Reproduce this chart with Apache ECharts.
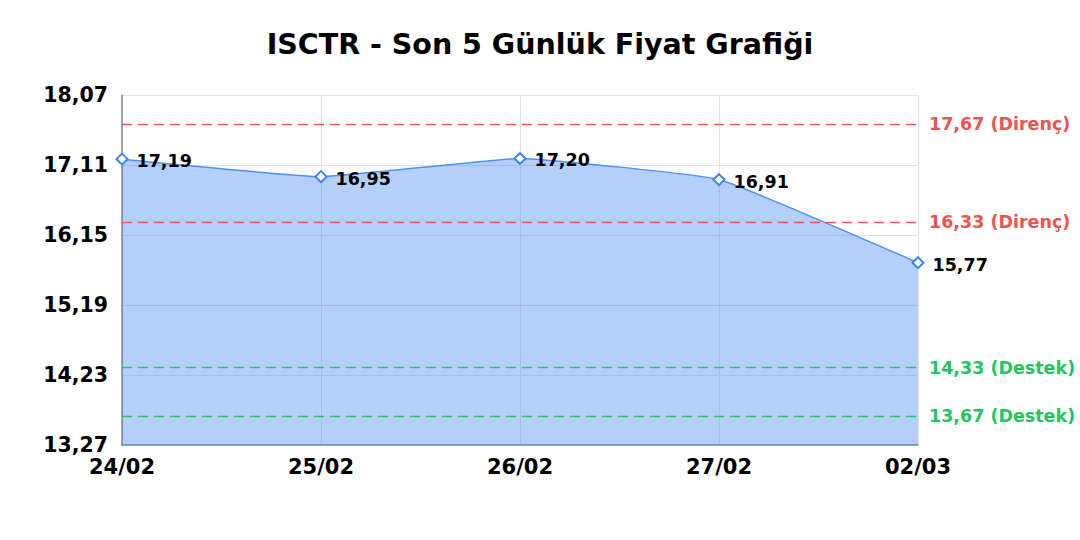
<!DOCTYPE html>
<html><head><meta charset="utf-8">
<script src="https://cdn.jsdelivr.net/npm/echarts@6/dist/echarts.min.js"></script>
<style>html,body{margin:0;padding:0;background:#fff}#c{width:1080px;height:540px}</style>
</head><body><div id="c"></div>
<script>
const categories = ['24/02','25/02','26/02','27/02','02/03'];
const prices = [17.19, 16.95, 17.20, 16.91, 15.77];
const yTicks = [13.27, 14.23, 15.19, 16.15, 17.11, 18.07];
const resistance = [17.67, 16.33];
const support = [14.33, 13.67];
const titleText = 'ISCTR - Son 5 Günlük Fiyat Grafiği';

const fmt = v => v.toFixed(2).replace('.', ',');
const FONT = 'DejaVu Sans';

const markData = [];
resistance.forEach(v => markData.push({
  yAxis: v,
  lineStyle: {color: '#ef5350', type: [10, 6], width: 1.3},
  label: {formatter: fmt(v) + ' (Direnç)', color: '#ef5350'}
}));
support.forEach(v => markData.push({
  yAxis: v,
  lineStyle: {color: '#22c55e', type: [10, 6], width: 1.3},
  label: {formatter: fmt(v) + ' (Destek)', color: '#22c55e'}
}));

const chart = echarts.init(document.getElementById('c'), null, {renderer: 'svg'});
chart.setOption({
  animation: false,
  textStyle: {fontFamily: FONT},
  title: {
    text: titleText, left: 'center', top: 25,
    textStyle: {fontFamily: FONT, fontSize: 28.5, fontWeight: 'bold', color: '#000'}
  },
  grid: {left: 122, right: 162, top: 95, bottom: 95, containLabel: false},
  xAxis: {
    type: 'category', data: categories, boundaryGap: false,
    axisLine: {lineStyle: {color: '#888', width: 1.5}},
    axisTick: {show: false},
    axisLabel: {fontFamily: FONT, fontSize: 21, fontWeight: 'bold', color: '#000', margin: 11, showMaxLabel: true, showMinLabel: true, interval: 0},
    splitLine: {show: true, lineStyle: {color: '#e3e3e3', width: 1}}
  },
  yAxis: {
    type: 'value', min: yTicks[0], max: yTicks[yTicks.length - 1],
    axisLine: {show: true, lineStyle: {color: '#888', width: 1.5}},
    axisTick: {show: false, customValues: yTicks},
    axisLabel: {customValues: yTicks, formatter: v => fmt(v), fontFamily: FONT, fontSize: 20.5, fontWeight: 'bold', color: '#000', margin: 14},
    splitLine: {show: true, lineStyle: {color: '#e3e3e3', width: 1}}
  },
  series: [{
    type: 'line', data: prices, smooth: 0.1,
    symbol: 'diamond', symbolSize: 11,
    itemStyle: {color: '#fff', borderColor: '#3b82f6', borderWidth: 2},
    lineStyle: {color: '#4f8ff7', width: 1.5},
    areaStyle: {color: 'rgba(59,130,246,0.38)', opacity: 1, origin: 'start'},
    label: {show: true, position: 'right', distance: 8, formatter: p => fmt(p.value), fontFamily: FONT, fontSize: 17.5, fontWeight: 'bold', color: '#000', offset: [0, 2]},
    markLine: {
      silent: true, symbol: 'none',
      label: {position: 'end', distance: 11, fontFamily: FONT, fontSize: 17.5, fontWeight: 'bold'},
      data: markData
    }
  }]
});
</script></body></html>
